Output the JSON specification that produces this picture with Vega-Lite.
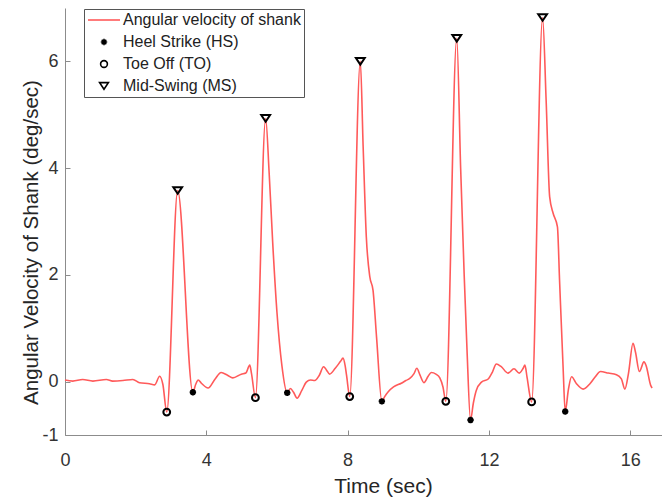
{
  "$schema": "https://vega.github.io/schema/vega-lite/v6.json",
  "width": 597,
  "height": 427,
  "autosize": {"type": "none"},
  "padding": {"left": 65, "top": 8, "right": 0, "bottom": 62},
  "background": "white",
  "config": {"view": {"stroke": null}, "font": "Liberation Sans"},
  "datasets": {
    "signal": [
      {"t": 0.00, "v": 0.03}, {"t": 0.22, "v": 0.01}, {"t": 0.50, "v": 0.04}, {"t": 0.79, "v": 0.01},
      {"t": 1.17, "v": 0.04}, {"t": 1.35, "v": 0.01}, {"t": 1.64, "v": 0.02}, {"t": 1.92, "v": 0.04},
      {"t": 2.11, "v": -0.02}, {"t": 2.39, "v": -0.04}, {"t": 2.54, "v": -0.06}, {"t": 2.68, "v": 0.10},
      {"t": 2.77, "v": -0.05}, {"t": 2.88, "v": -0.57}, {"t": 3.19, "v": 3.58}, {"t": 3.62, "v": -0.20},
      {"t": 3.70, "v": -0.05}, {"t": 3.77, "v": 0.03}, {"t": 3.86, "v": -0.03}, {"t": 4.05, "v": -0.12},
      {"t": 4.25, "v": 0.05}, {"t": 4.42, "v": 0.17}, {"t": 4.60, "v": 0.12}, {"t": 4.75, "v": 0.07},
      {"t": 4.99, "v": 0.14}, {"t": 5.12, "v": 0.16}, {"t": 5.23, "v": 0.31}, {"t": 5.28, "v": 0.15},
      {"t": 5.39, "v": -0.30}, {"t": 5.68, "v": 4.93}, {"t": 5.78, "v": 3.9}, {"t": 5.88, "v": 2.6},
      {"t": 6.00, "v": 1.3}, {"t": 6.14, "v": 0.3}, {"t": 6.29, "v": -0.21}, {"t": 6.38, "v": -0.13},
      {"t": 6.47, "v": -0.20}, {"t": 6.57, "v": -0.31}, {"t": 6.70, "v": -0.17}, {"t": 6.83, "v": -0.01},
      {"t": 6.95, "v": 0.03}, {"t": 7.07, "v": 0.02}, {"t": 7.20, "v": 0.12}, {"t": 7.32, "v": 0.28},
      {"t": 7.40, "v": 0.22}, {"t": 7.49, "v": 0.14}, {"t": 7.65, "v": 0.25}, {"t": 7.80, "v": 0.38},
      {"t": 7.87, "v": 0.44}, {"t": 7.93, "v": 0.30}, {"t": 7.97, "v": 0.12}, {"t": 8.06, "v": -0.28},
      {"t": 8.36, "v": 6.00}, {"t": 8.44, "v": 4.4}, {"t": 8.53, "v": 2.71}, {"t": 8.63, "v": 1.96},
      {"t": 8.72, "v": 1.71}, {"t": 8.82, "v": 0.83}, {"t": 8.97, "v": -0.37}, {"t": 9.05, "v": -0.28},
      {"t": 9.15, "v": -0.19}, {"t": 9.30, "v": -0.10}, {"t": 9.52, "v": -0.03}, {"t": 9.65, "v": 0.02},
      {"t": 9.76, "v": 0.06}, {"t": 9.88, "v": 0.15}, {"t": 9.96, "v": 0.25}, {"t": 10.05, "v": 0.12},
      {"t": 10.16, "v": -0.02}, {"t": 10.28, "v": 0.10}, {"t": 10.37, "v": 0.17}, {"t": 10.50, "v": 0.14},
      {"t": 10.61, "v": 0.07}, {"t": 10.70, "v": -0.10}, {"t": 10.78, "v": -0.37}, {"t": 11.09, "v": 6.43},
      {"t": 11.20, "v": 4.0}, {"t": 11.30, "v": 2.0}, {"t": 11.38, "v": 0.6}, {"t": 11.48, "v": -0.72},
      {"t": 11.56, "v": -0.40}, {"t": 11.64, "v": -0.17}, {"t": 11.79, "v": -0.01}, {"t": 11.98, "v": 0.05},
      {"t": 12.10, "v": 0.18}, {"t": 12.21, "v": 0.33}, {"t": 12.35, "v": 0.28}, {"t": 12.54, "v": 0.16},
      {"t": 12.71, "v": 0.24}, {"t": 12.86, "v": 0.16}, {"t": 12.97, "v": 0.25}, {"t": 13.02, "v": 0.31},
      {"t": 13.08, "v": 0.08}, {"t": 13.21, "v": -0.38}, {"t": 13.52, "v": 6.82}, {"t": 13.62, "v": 5.27},
      {"t": 13.72, "v": 3.46}, {"t": 13.82, "v": 3.15}, {"t": 13.94, "v": 2.9}, {"t": 14.00, "v": 1.9},
      {"t": 14.10, "v": 0.27}, {"t": 14.16, "v": -0.56}, {"t": 14.25, "v": -0.15}, {"t": 14.34, "v": 0.09},
      {"t": 14.48, "v": -0.04}, {"t": 14.67, "v": -0.14}, {"t": 14.86, "v": -0.04}, {"t": 15.00, "v": 0.08},
      {"t": 15.16, "v": 0.19}, {"t": 15.38, "v": 0.16}, {"t": 15.61, "v": 0.13}, {"t": 15.75, "v": 0.05},
      {"t": 15.85, "v": -0.14}, {"t": 15.95, "v": 0.15}, {"t": 16.08, "v": 0.72}, {"t": 16.15, "v": 0.55},
      {"t": 16.26, "v": 0.19}, {"t": 16.39, "v": 0.37}, {"t": 16.45, "v": 0.30}, {"t": 16.58, "v": -0.07},
      {"t": 16.62, "v": -0.12}
    ],
    "events": [
      {"t": 3.62, "v": -0.20, "series": "Heel Strike (HS)"},
      {"t": 6.29, "v": -0.21, "series": "Heel Strike (HS)"},
      {"t": 8.97, "v": -0.37, "series": "Heel Strike (HS)"},
      {"t": 11.48, "v": -0.72, "series": "Heel Strike (HS)"},
      {"t": 14.16, "v": -0.56, "series": "Heel Strike (HS)"},
      {"t": 2.88, "v": -0.57, "series": "Toe Off (TO)"},
      {"t": 5.39, "v": -0.30, "series": "Toe Off (TO)"},
      {"t": 8.06, "v": -0.28, "series": "Toe Off (TO)"},
      {"t": 10.78, "v": -0.37, "series": "Toe Off (TO)"},
      {"t": 13.21, "v": -0.38, "series": "Toe Off (TO)"},
      {"t": 3.19, "v": 3.58, "series": "Mid-Swing (MS)"},
      {"t": 5.68, "v": 4.93, "series": "Mid-Swing (MS)"},
      {"t": 8.36, "v": 6.00, "series": "Mid-Swing (MS)"},
      {"t": 11.09, "v": 6.43, "series": "Mid-Swing (MS)"},
      {"t": 13.52, "v": 6.82, "series": "Mid-Swing (MS)"}
    ]
  },
  "layer": [
    {
      "data": {"name": "signal"},
      "mark": {"type": "line", "color": "#ff5a5a", "strokeWidth": 1.6, "interpolate": "monotone"},
      "encoding": {
        "x": {
          "field": "t", "type": "quantitative",
          "scale": {"domain": [0, 16.9], "nice": false, "zero": false},
          "axis": {
            "values": [0, 4, 8, 12, 16], "title": "Time (sec)", "grid": false,
            "tickSize": -5, "labelPadding": 21, "labelFontSize": 18, "labelFlush": false,
            "titleFontSize": 21, "titleFontWeight": "normal", "titlePadding": 6, "titleX": 318,
            "domainColor": "#8c8c8c", "tickColor": "#8c8c8c", "labelColor": "#333333", "titleColor": "#262626",
            "labelFont": "Liberation Sans", "titleFont": "Liberation Sans"
          }
        },
        "y": {
          "field": "v", "type": "quantitative",
          "scale": {"domain": [-1, 7], "nice": false, "zero": false},
          "axis": {
            "values": [-1, 0, 2, 4, 6], "title": "Angular Velocity of Shank (deg/sec)", "grid": false,
            "labelExpr": "'' + datum.value",
            "tickSize": -5, "labelPadding": 12, "labelFontSize": 18, "labelFlush": false,
            "titleFontSize": 20.5, "titleFontWeight": "normal", "titleX": -24, "titleY": 234,
            "domainColor": "#8c8c8c", "tickColor": "#8c8c8c", "labelColor": "#333333", "titleColor": "#262626",
            "labelFont": "Liberation Sans", "titleFont": "Liberation Sans"
          }
        }
      }
    },
    {
      "data": {"name": "events"},
      "mark": {"type": "point", "filled": false, "strokeWidth": 2, "size": 64, "opacity": 1},
      "encoding": {
        "x": {"field": "t", "type": "quantitative"},
        "y": {"field": "v", "type": "quantitative"},
        "color": {
          "field": "series", "type": "nominal",
          "scale": {
            "domain": ["Angular velocity of shank", "Heel Strike (HS)", "Toe Off (TO)", "Mid-Swing (MS)"],
            "range": ["#ff5a5a", "#000000", "#000000", "#000000"]
          },
          "legend": {
            "title": null, "orient": "none", "legendX": 19, "legendY": 1,
            "padding": 3, "symbolOffset": 9, "labelOffset": 11, "rowPadding": 6,
            "labelFontSize": 16, "labelFont": "Liberation Sans", "labelColor": "#222222",
            "symbolSize": 64, "symbolStrokeWidth": 1.6, "symbolFillColor": "transparent",
            "strokeColor": "#555555", "fillColor": "white", "labelLimit": 400
          }
        },
        "shape": {
          "field": "series", "type": "nominal",
          "scale": {
            "domain": ["Angular velocity of shank", "Heel Strike (HS)", "Toe Off (TO)", "Mid-Swing (MS)"],
            "range": [
              "M-4,0L4,0",
              "M-0.8,0L0.8,0M0,-0.8L0,0.8M-0.57,-0.57L0.57,0.57M-0.57,0.57L0.57,-0.57",
              "M-0.85,0A0.85,0.85 0 1,0 0.85,0A0.85,0.85 0 1,0 -0.85,0Z",
              "M0,0.8L-1.1,-0.85L1.1,-0.85Z"
            ]
          },
          "legend": {
            "title": null, "orient": "none", "legendX": 19, "legendY": 1,
            "padding": 3, "symbolOffset": 9, "labelOffset": 11, "rowPadding": 6,
            "labelFontSize": 16, "labelFont": "Liberation Sans", "labelColor": "#222222",
            "symbolSize": 64, "symbolStrokeWidth": 1.6, "symbolFillColor": "transparent",
            "strokeColor": "#555555", "fillColor": "white", "labelLimit": 400
          }
        }
      }
    }
  ]
}
